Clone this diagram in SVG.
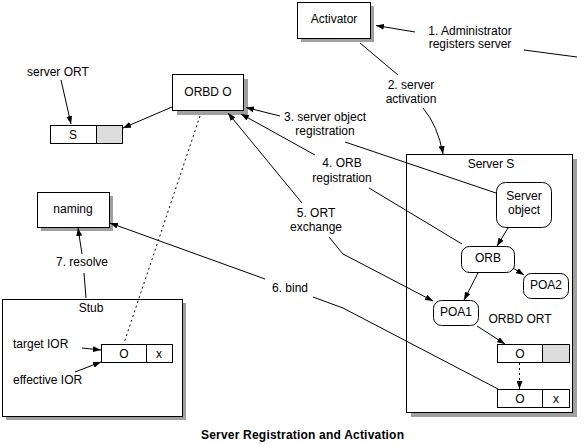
<svg xmlns="http://www.w3.org/2000/svg" width="584" height="444" viewBox="0 0 584 444">
<style>
text{font-family:"Liberation Sans",Arial,sans-serif;font-size:12px;fill:#000}
.m{text-anchor:middle}
.box{fill:#fff;stroke:#000;stroke-width:1}
.sh{fill:#a0a0a0;stroke:none}
.gray{fill:#dcdcdc;stroke:#000;stroke-width:1}
.ln{fill:none;stroke:#000;stroke-width:1}
.dot{fill:none;stroke:#000;stroke-width:1;stroke-dasharray:2,3}
.title{font-weight:bold;font-size:12px}
</style>
<defs>
<marker id="arr" viewBox="0 0 8 6" refX="8" refY="3" markerWidth="8" markerHeight="6" markerUnits="userSpaceOnUse" orient="auto">
<path d="M0,0 L8,3 L0,6 z" fill="#000"/>
</marker>
</defs>
<rect width="584" height="444" fill="#fff"/>

<g id="activator">
<rect class="sh" x="301" y="6" width="73" height="36"/>
<rect class="box" x="297.5" y="2.5" width="73" height="36"/>
<text class="m" x="334" y="23">Activator</text>
</g>

<g id="orbd">
<rect class="sh" x="177" y="79" width="71" height="36"/>
<rect class="box" x="172.5" y="74.5" width="71" height="36"/>
<text class="m" x="208" y="96">ORBD O</text>
</g>

<g id="serverORT">
<text x="27" y="76">server ORT</text>
<rect class="box" x="50.5" y="125.5" width="46" height="18"/>
<rect class="gray" x="96.5" y="125.5" width="26" height="18"/>
<text class="m" x="73" y="139">S</text>
</g>

<g id="naming">
<rect class="sh" x="41" y="196" width="72" height="35"/>
<rect class="box" x="37.5" y="192.5" width="72" height="35"/>
<text class="m" x="73" y="213">naming</text>
</g>

<g id="stub">
<rect class="sh" x="6" y="303" width="180" height="117"/>
<rect class="box" x="2.5" y="299.5" width="180" height="117"/>
<text class="m" x="91" y="312">Stub</text>
<text x="13" y="348">target IOR</text>
<text x="13" y="384">effective IOR</text>
<rect class="box" x="101.5" y="344.5" width="45" height="18"/>
<rect class="box" x="146.5" y="344.5" width="26" height="18"/>
<text class="m" x="124" y="358">O</text>
<text class="m" x="159" y="358">x</text>
</g>

<g id="serverS">
<rect class="sh" x="411" y="159" width="166" height="258"/>
<rect class="box" x="406.5" y="154.5" width="166" height="258"/>
<text class="m" x="491" y="168">Server S</text>
</g>

<g id="serverObject">
<rect class="box" x="496.5" y="182.5" width="55" height="45" rx="9"/>
<text class="m" x="524" y="200">Server</text>
<text class="m" x="524" y="214">object</text>
</g>

<g id="orb">
<rect class="box" x="461.5" y="246.5" width="53" height="26" rx="8"/>
<text class="m" x="488" y="262">ORB</text>
</g>

<g id="poa2">
<rect class="box" x="523.5" y="273.5" width="45" height="25" rx="8"/>
<text class="m" x="546" y="289">POA2</text>
</g>

<g id="poa1">
<rect class="box" x="433.5" y="300.5" width="45" height="25" rx="8"/>
<text class="m" x="456" y="316">POA1</text>
</g>

<g id="orbdORT">
<text class="m" x="520" y="323">ORBD ORT</text>
<rect class="box" x="497.5" y="344.5" width="45" height="18"/>
<rect class="gray" x="542.5" y="344.5" width="27" height="18"/>
<text class="m" x="520" y="358">O</text>
</g>

<g id="boundIOR">
<rect class="box" x="497.5" y="389.5" width="45" height="18"/>
<rect class="box" x="542.5" y="389.5" width="27" height="18"/>
<text class="m" x="520" y="403">O</text>
<text class="m" x="556" y="403">x</text>
</g>

<g id="connectors">
<!-- 1 -->
<line class="ln" x1="415" y1="32" x2="376" y2="25.5" marker-end="url(#arr)"/>
<line class="ln" x1="524" y1="50" x2="577" y2="57"/>
<text class="m" x="470" y="35">1. Administrator</text>
<text class="m" x="470" y="48">registers server</text>
<!-- 2 -->
<line class="ln" x1="360" y1="43" x2="398" y2="75"/>
<path class="ln" d="M423,108 Q438,126 443,154" marker-end="url(#arr)"/>
<text class="m" x="411" y="89">2. server</text>
<text class="m" x="411" y="103">activation</text>
<!-- 3 -->
<line class="ln" x1="280" y1="116" x2="246" y2="107.5" marker-end="url(#arr)"/>
<line class="ln" x1="345" y1="142" x2="496" y2="193"/>
<text class="m" x="325" y="121">3. server object</text>
<text class="m" x="325" y="135">registration</text>
<!-- 4 -->
<line class="ln" x1="315" y1="155" x2="241" y2="114" marker-end="url(#arr)"/>
<line class="ln" x1="369" y1="188" x2="462" y2="244"/>
<text class="m" x="342" y="167">4. ORB</text>
<text class="m" x="342" y="182">registration</text>
<!-- 5 -->
<line class="ln" x1="302" y1="203" x2="228" y2="113" marker-end="url(#arr)"/>
<polyline class="ln" points="329,237 343,254 433,301" marker-end="url(#arr)"/>
<text class="m" x="316" y="217">5. ORT</text>
<text class="m" x="316" y="231">exchange</text>
<!-- 6 -->
<line class="ln" x1="265" y1="279" x2="110" y2="223" marker-end="url(#arr)"/>
<polyline class="ln" points="313,297 343,308 498,389"/>
<text class="m" x="290" y="292">6. bind</text>
<!-- 7 -->
<line class="ln" x1="86" y1="298" x2="84" y2="273"/>
<line class="ln" x1="82" y1="254" x2="78" y2="228" marker-end="url(#arr)"/>
<text class="m" x="82" y="266">7. resolve</text>
<!-- server ORT -->
<line class="ln" x1="61" y1="80" x2="71" y2="124" marker-end="url(#arr)"/>
<line class="ln" x1="172" y1="107" x2="123" y2="128" marker-end="url(#arr)"/>
<!-- dotted ORBD to stub -->
<line class="dot" x1="200" y1="116" x2="124" y2="343"/>
<!-- stub IOR arrows -->
<line class="ln" x1="82" y1="348" x2="101" y2="350" marker-end="url(#arr)"/>
<line class="ln" x1="75" y1="372" x2="101" y2="362" marker-end="url(#arr)"/>
<!-- server internals -->
<line class="ln" x1="508" y1="228" x2="497" y2="246" marker-end="url(#arr)"/>
<line class="ln" x1="478" y1="273" x2="464" y2="300" marker-end="url(#arr)"/>
<line class="ln" x1="513" y1="268" x2="524" y2="275" marker-end="url(#arr)"/>
<line class="ln" x1="477" y1="326" x2="505" y2="344" marker-end="url(#arr)"/>
<line class="dot" x1="519.5" y1="363" x2="519.5" y2="389" marker-end="url(#arr)"/>
</g>

<text class="title" x="201" y="439" textLength="203" lengthAdjust="spacing">Server Registration and Activation</text>
</svg>
